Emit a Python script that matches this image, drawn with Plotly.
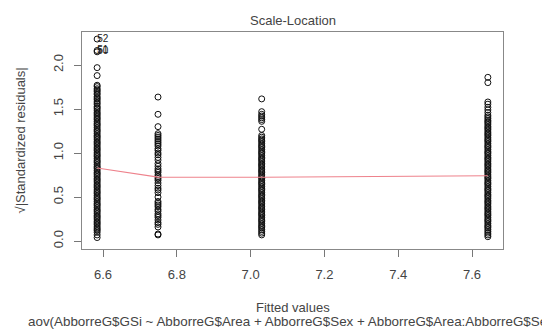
import plotly.graph_objects as go

# Fitted values (group means) and sqrt(|standardized residuals|) per group
fitted_groups = [6.584, 6.749, 7.03, 7.643]

resid_g1 = [2.295, 2.165, 2.15, 1.97, 1.88, 1.77, 1.755, 1.73, 1.715, 1.70, 1.68, 1.665, 1.64, 1.625,
            1.61, 1.59, 1.57, 1.555, 1.53, 1.515, 1.50, 1.48, 1.46, 1.445, 1.43, 1.41, 1.395, 1.38,
            1.36, 1.34, 1.325, 1.31, 1.29, 1.27, 1.255, 1.24, 1.22, 1.20, 1.185, 1.17, 1.15, 1.13,
            1.115, 1.10, 1.08, 1.06, 1.045, 1.03, 1.01, 0.99, 0.975, 0.96, 0.94, 0.92, 0.905, 0.89,
            0.87, 0.85, 0.835, 0.82, 0.80, 0.78, 0.765, 0.75, 0.73, 0.71, 0.695, 0.68, 0.66, 0.64,
            0.625, 0.61, 0.59, 0.57, 0.555, 0.54, 0.52, 0.50, 0.485, 0.47, 0.45, 0.43, 0.415, 0.40,
            0.38, 0.36, 0.345, 0.33, 0.31, 0.29, 0.275, 0.26, 0.24, 0.22, 0.205, 0.19, 0.17, 0.15,
            0.135, 0.12, 0.10, 0.07, 0.04]
resid_g2 = [1.636, 1.44, 1.30, 1.22, 1.20, 1.18, 1.16, 1.14, 1.12, 1.10, 1.08, 1.05, 1.03, 1.00,
            0.98, 0.95, 0.92, 0.88, 0.85, 0.82, 0.80, 0.78, 0.75, 0.73, 0.71, 0.69, 0.66, 0.63,
            0.60, 0.58, 0.55, 0.50, 0.45, 0.43, 0.41, 0.39, 0.36, 0.34, 0.31, 0.29, 0.27, 0.24,
            0.21, 0.19, 0.16, 0.08, 0.07]
resid_g3 = [1.615, 1.47, 1.44, 1.42, 1.40, 1.38, 1.36, 1.27, 1.20, 1.18, 1.16, 1.145, 1.13, 1.11,
            1.09, 1.075, 1.06, 1.04, 1.02, 1.005, 0.99, 0.97, 0.95, 0.935, 0.92, 0.90, 0.88, 0.865,
            0.85, 0.83, 0.81, 0.795, 0.78, 0.76, 0.74, 0.725, 0.71, 0.69, 0.67, 0.655, 0.64, 0.62,
            0.60, 0.585, 0.57, 0.55, 0.53, 0.515, 0.50, 0.48, 0.46, 0.445, 0.43, 0.41, 0.39, 0.375,
            0.36, 0.34, 0.32, 0.305, 0.29, 0.27, 0.25, 0.235, 0.22, 0.20, 0.18, 0.165, 0.15, 0.13,
            0.11, 0.09, 0.07]
resid_g4 = [1.86, 1.80, 1.58, 1.555, 1.52, 1.49, 1.46, 1.43, 1.41, 1.39, 1.37, 1.355, 1.34, 1.32,
            1.30, 1.285, 1.27, 1.25, 1.23, 1.215, 1.20, 1.18, 1.16, 1.145, 1.13, 1.11, 1.09, 1.075,
            1.06, 1.04, 1.02, 1.005, 0.99, 0.97, 0.95, 0.935, 0.92, 0.90, 0.88, 0.865, 0.85, 0.83,
            0.81, 0.795, 0.78, 0.76, 0.74, 0.725, 0.71, 0.69, 0.67, 0.655, 0.64, 0.62, 0.60, 0.585,
            0.57, 0.55, 0.53, 0.515, 0.50, 0.48, 0.46, 0.445, 0.43, 0.41, 0.39, 0.375, 0.36, 0.34,
            0.32, 0.305, 0.29, 0.27, 0.25, 0.235, 0.22, 0.20, 0.18, 0.165, 0.15, 0.13, 0.11, 0.09,
            0.07, 0.05]

smooth_y = [0.83, 0.727, 0.725, 0.742]

label_points_x = [6.584, 6.584, 6.584]
label_points_y = [2.295, 2.165, 2.15]
label_text = ["52", "51", "50"]

x_ticks = [6.6, 6.8, 7.0, 7.2, 7.4, 7.6]
y_ticks = [0.0, 0.5, 1.0, 1.5, 2.0]

groups = [resid_g1, resid_g2, resid_g3, resid_g4]
xs, ys = [], []
for fv, g in zip(fitted_groups, groups):
    xs += [fv] * len(g)
    ys += g

TXT = "#444444"
FONT = "Liberation Sans, Arial, sans-serif"

fig = go.Figure()
fig.add_trace(go.Scatter(x=xs, y=ys, mode="markers",
                         marker=dict(symbol="circle-open", size=6, color="#111111",
                                     line=dict(width=1, color="#111111")),
                         showlegend=False))
fig.add_trace(go.Scatter(x=fitted_groups, y=smooth_y, mode="lines",
                         line=dict(color="rgb(238,130,140)", width=1.2), showlegend=False))
fig.add_trace(go.Scatter(x=label_points_x, y=label_points_y, mode="text", text=label_text,
                         textposition="middle right",
                         textfont=dict(size=10, color="#222222", family=FONT),
                         showlegend=False))

axis_common = dict(showgrid=False, zeroline=False, ticks="outside", ticklen=7,
                   tickcolor="#777777", tickwidth=1, showline=True, linecolor="#888888",
                   linewidth=1, mirror=True,
                   tickfont=dict(size=13, color=TXT, family=FONT))

fig.update_layout(
    width=542, height=329,
    margin=dict(l=82, r=39, t=32, b=80),
    paper_bgcolor="white", plot_bgcolor="white",
    xaxis=dict(range=[6.543, 7.684], tickvals=x_ticks, ticktext=[f"{v:.1f}" for v in x_ticks],
               ticklabelstandoff=6, **axis_common),
    yaxis=dict(range=[-0.09, 2.375], tickvals=y_ticks, ticktext=[f"{v:.1f}" for v in y_ticks],
               tickangle=-90, ticklabelstandoff=6, **axis_common),
    annotations=[
        dict(text="Scale-Location", x=0.5, y=1, xref="paper", yref="paper",
             yanchor="middle", yshift=12, showarrow=False,
             font=dict(size=13, color=TXT, family=FONT)),
        dict(text="Fitted values", x=0.5, y=0, xref="paper", yref="paper",
             yanchor="middle", yshift=-58, showarrow=False,
             font=dict(size=13, color=TXT, family=FONT)),
        dict(text="aov(AbborreG$GSi ~ AbborreG$Area + AbborreG$Sex + AbborreG$Area:AbborreG$Sex)",
             x=0.5, y=0, xref="paper", yref="paper",
             yanchor="middle", yshift=-72, showarrow=False,
             font=dict(size=13.4, color=TXT, family=FONT)),
        dict(text="√|Standardized residuals|", x=0, y=0.5, xref="paper", yref="paper",
             xanchor="center", xshift=-62, textangle=-90, showarrow=False,
             font=dict(size=13, color=TXT, family=FONT)),
    ],
)

fig.write_html("out.html")
